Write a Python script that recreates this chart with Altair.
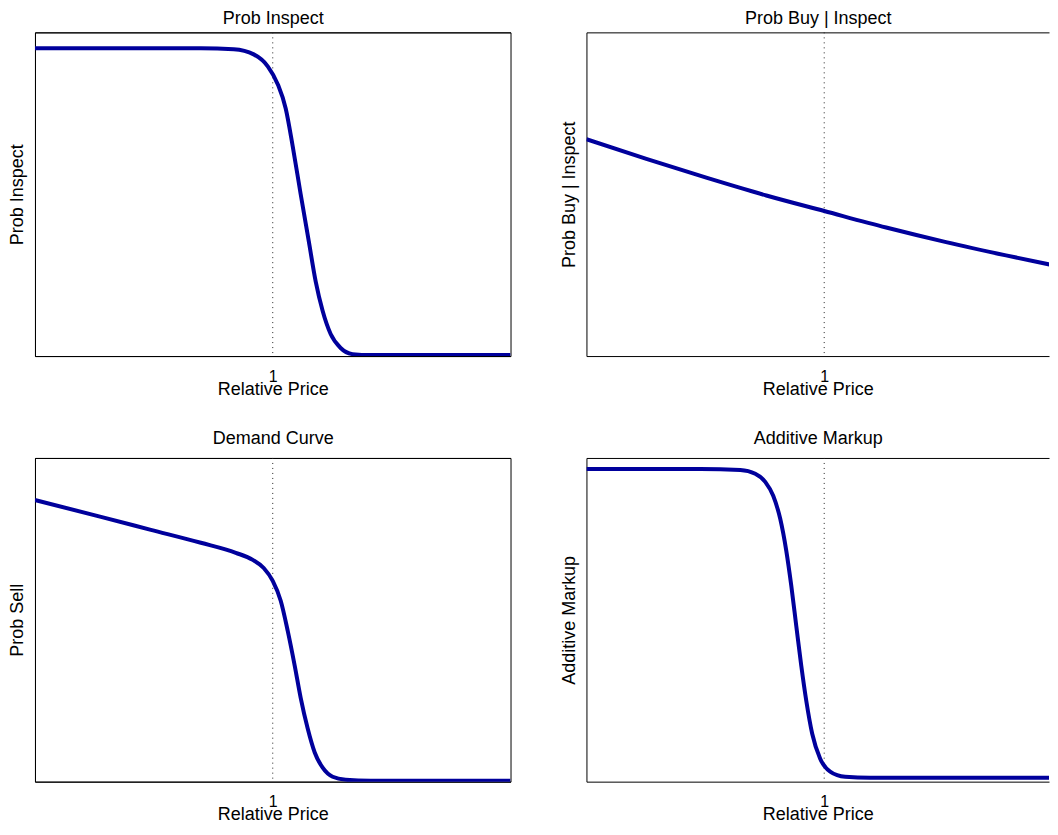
import altair as alt
import pandas as pd

# ---------------- data ----------------
ref_price = [1.0]

inspect_price = [0.8000, 0.9395, 0.9672, 0.9840, 0.9958, 1.0042, 1.0109, 1.0168,
                 1.0235, 1.0303, 1.0361, 1.0420, 1.0487, 1.0571, 1.0672, 1.0824, 1.2000]
inspect_prob = [0.951, 0.951, 0.948, 0.932, 0.895, 0.840, 0.765, 0.648,
                0.500, 0.355, 0.231, 0.139, 0.068, 0.025, 0.006, 0.003, 0.003]

buy_price = [0.8000, 0.8504, 0.9008, 0.9513, 1.0000, 1.0521, 1.1025, 1.1529, 1.1958]
buy_prob = [0.670, 0.609, 0.551, 0.496, 0.448, 0.397, 0.352, 0.311, 0.278]

demand_price = [0.8000, 0.8555, 0.8975, 0.9395, 0.9689, 0.9832, 0.9924, 1.0000, 1.0067,
                1.0126, 1.0185, 1.0235, 1.0294, 1.0353, 1.0420, 1.0504, 1.0613, 1.0824, 1.2000]
demand_prob = [0.870, 0.818, 0.778, 0.738, 0.707, 0.685, 0.660, 0.620, 0.559,
               0.466, 0.358, 0.259, 0.164, 0.090, 0.043, 0.015, 0.006, 0.003, 0.003]

markup_price = [0.8000, 0.8958, 0.9294, 0.9420, 0.9504, 0.9571, 0.9630, 0.9681, 0.9723,
                0.9765, 0.9807, 0.9849, 0.9899, 0.9966, 1.0050, 1.0176, 1.0387, 1.1958]
markup_value = [0.966, 0.966, 0.963, 0.951, 0.926, 0.883, 0.812, 0.713, 0.605,
                0.481, 0.358, 0.250, 0.148, 0.071, 0.031, 0.015, 0.012, 0.012]

x_ticks = [1]

# ---------------- styling ----------------
FONT = "Liberation Sans"
LINE_COLOR = "#00009C"
H = 324


def panel(xs, ys, title, ytitle, width, xmax, full_box, title_y):
    df = pd.DataFrame({"price": xs, "value": ys})
    ref_df = pd.DataFrame({"price": ref_price})
    xscale = alt.Scale(domain=[0.8, xmax], nice=False, zero=False)
    yscale = alt.Scale(domain=[0, 1], nice=False, zero=False)

    # top axis: draws the top frame line and carries the panel title
    top_axis = alt.Axis(orient="top", labels=False, ticks=False, tickSize=0,
                        labelPadding=0, minExtent=0,
                        domain=True, domainColor="black", domainWidth=1,
                        grid=False, title=title, titleFont=FONT, titleFontSize=18,
                        titleFontWeight="normal", titleColor="black",
                        titleBaseline="alphabetic", titleY=title_y, titleAlign="center")

    ref = alt.Chart(ref_df).mark_rule(
        color="#222222", strokeWidth=1, strokeDash=[1, 4]
    ).encode(
        x=alt.X("price:Q", scale=xscale, axis=top_axis)
    )

    line = alt.Chart(df).mark_line(
        color=LINE_COLOR, strokeWidth=4, interpolate="monotone", clip=True
    ).encode(
        x=alt.X("price:Q", scale=xscale,
                axis=alt.Axis(orient="bottom", values=x_ticks, format="d",
                              ticks=False, tickSize=0, grid=False,
                              domain=True, domainColor="black", domainWidth=1,
                              labelFont=FONT, labelFontSize=16, labelColor="black",
                              labelBaseline="top", labelPadding=12,
                              title="Relative Price", titleFont=FONT, titleFontSize=18,
                              titleFontWeight="normal", titleColor="black",
                              titleBaseline="alphabetic", titleY=38, titleAlign="center")),
        y=alt.Y("value:Q", scale=yscale,
                axis=alt.Axis(labels=False, ticks=False, tickSize=0, grid=False,
                              minExtent=0,
                              domain=True, domainColor="black", domainWidth=1,
                              title=ytitle, titleFont=FONT, titleFontSize=18,
                              titleFontWeight="normal", titleColor="black",
                              titleAngle=270, titleBaseline="alphabetic",
                              titleX=-12, titleAlign="center"))
    )

    stroke = "black" if full_box else "transparent"
    return alt.layer(ref, line).resolve_axis(x="independent").properties(
        width=width, height=H,
        view=alt.ViewBackground(stroke=stroke, strokeWidth=1, fill="white"),
    )


RIGHT_W = 463
RIGHT_MAX = 0.8 + RIGHT_W / 1190.0

p1 = panel(inspect_price, inspect_prob, "Prob Inspect", "Prob Inspect", 476, 1.2, True, -9)
p2 = panel(buy_price, buy_prob, "Prob Buy | Inspect", "Prob Buy | Inspect", RIGHT_W, RIGHT_MAX, False, -9)
p3 = panel(demand_price, demand_prob, "Demand Curve", "Prob Sell", 476, 1.2, True, -14)
p4 = panel(markup_price, markup_value, "Additive Markup", "Additive Markup", RIGHT_W, RIGHT_MAX, False, -14)

chart = alt.concat(
    p1, p2, p3, p4, columns=2, spacing={"row": 102, "column": 76}, bounds="flush"
).properties(
    padding={"left": 0, "top": 0, "right": 0, "bottom": 0},
    background="white",
).configure_view(stroke="transparent")

chart.save("out.html", embed_options={"renderer": "svg", "actions": False})
